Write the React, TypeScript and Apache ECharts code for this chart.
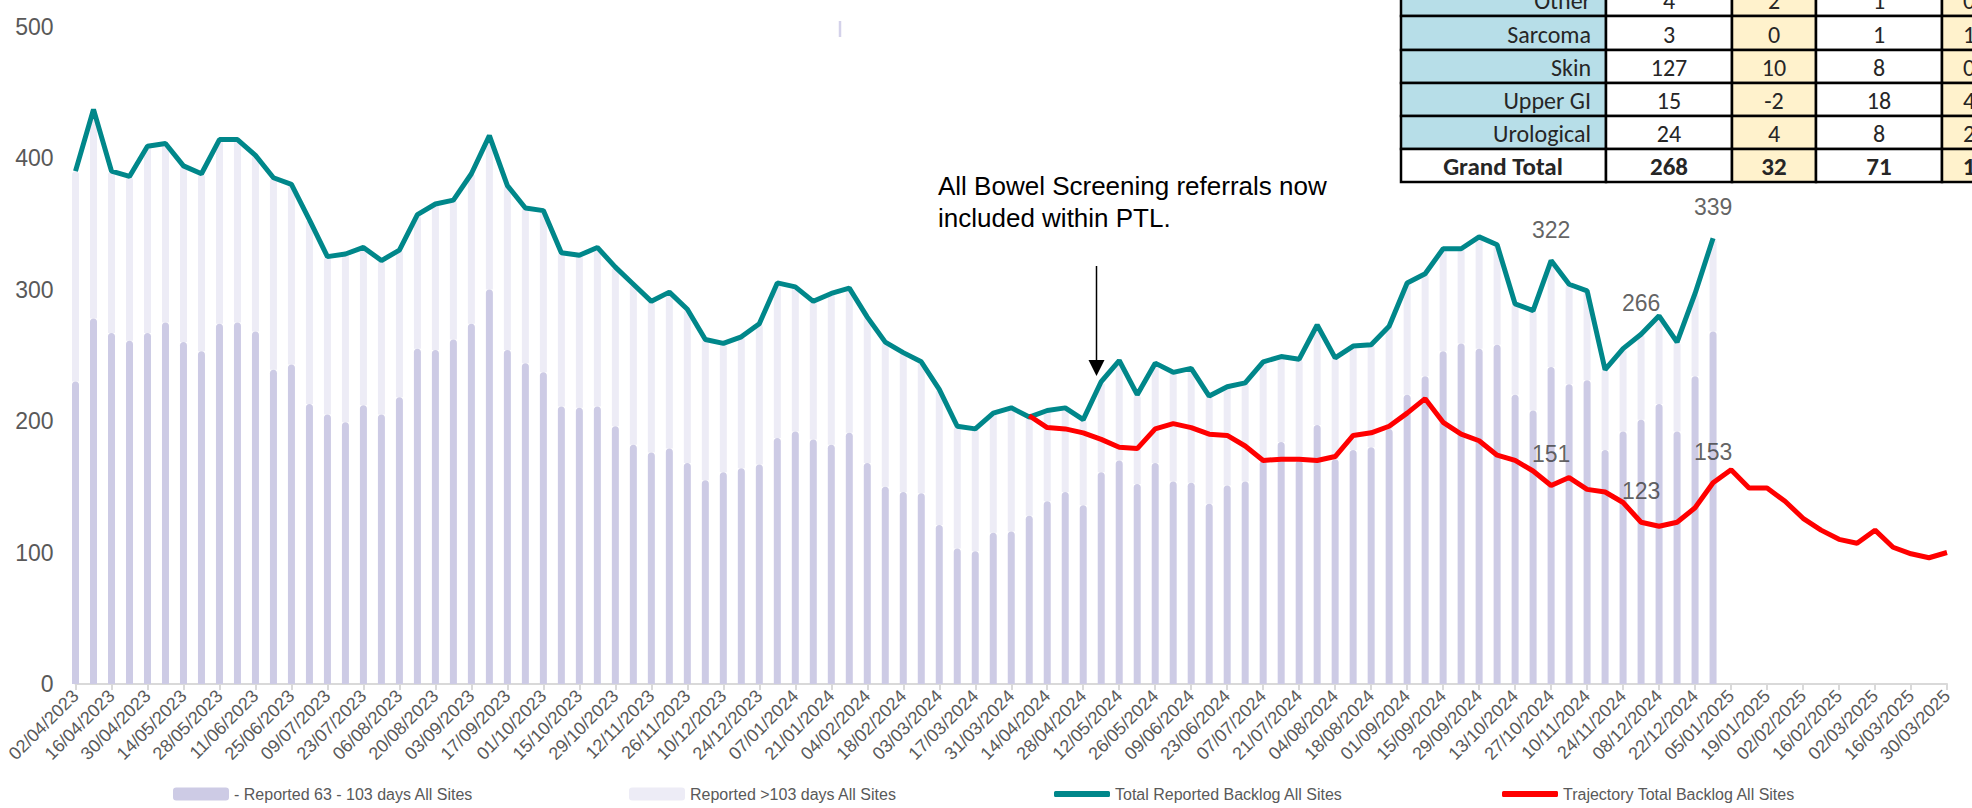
import React, { useEffect, useRef } from "react";
import * as echarts from "echarts";

const categories: string[] = [
  "02/04/2023", "09/04/2023", "16/04/2023", "23/04/2023", "30/04/2023", "07/05/2023", "14/05/2023", "21/05/2023",
  "28/05/2023", "04/06/2023", "11/06/2023", "18/06/2023", "25/06/2023", "02/07/2023", "09/07/2023", "16/07/2023",
  "23/07/2023", "30/07/2023", "06/08/2023", "13/08/2023", "20/08/2023", "27/08/2023", "03/09/2023", "10/09/2023",
  "17/09/2023", "24/09/2023", "01/10/2023", "08/10/2023", "15/10/2023", "22/10/2023", "29/10/2023", "05/11/2023",
  "12/11/2023", "19/11/2023", "26/11/2023", "03/12/2023", "10/12/2023", "17/12/2023", "24/12/2023", "31/12/2023",
  "07/01/2024", "14/01/2024", "21/01/2024", "28/01/2024", "04/02/2024", "11/02/2024", "18/02/2024", "25/02/2024",
  "03/03/2024", "10/03/2024", "17/03/2024", "24/03/2024", "31/03/2024", "07/04/2024", "14/04/2024", "21/04/2024",
  "28/04/2024", "05/05/2024", "12/05/2024", "19/05/2024", "26/05/2024", "02/06/2024", "09/06/2024", "16/06/2024",
  "23/06/2024", "30/06/2024", "07/07/2024", "14/07/2024", "21/07/2024", "28/07/2024", "04/08/2024", "11/08/2024",
  "18/08/2024", "25/08/2024", "01/09/2024", "08/09/2024", "15/09/2024", "22/09/2024", "29/09/2024", "06/10/2024",
  "13/10/2024", "20/10/2024", "27/10/2024", "03/11/2024", "10/11/2024", "17/11/2024", "24/11/2024", "01/12/2024",
  "08/12/2024", "15/12/2024", "22/12/2024", "29/12/2024", "05/01/2025", "12/01/2025", "19/01/2025", "26/01/2025",
  "02/02/2025", "09/02/2025", "16/02/2025", "23/02/2025", "02/03/2025", "09/03/2025", "16/03/2025", "23/03/2025",
  "30/03/2025",
];

// Reported 63 - 103 days (lower, darker bar segment)
const reported63to103: number[] = [
  230, 278, 267, 261, 267, 275, 260, 253, 274, 275, 268, 239, 243, 213, 205, 199,
  212, 205, 218, 255, 254, 262, 274, 300, 254, 244, 237, 211, 210, 211, 196, 182,
  176, 179, 168, 155, 161, 164, 167, 187, 192, 186, 182, 191, 168, 150, 146, 145,
  121, 103, 101, 115, 116, 128, 139, 146, 136, 161, 170, 152, 168, 154, 153, 137,
  151, 154, 170, 184, 170, 197, 171, 178, 180, 194, 220, 234, 253, 259, 255, 258,
  220, 208, 241, 228, 231, 178, 192, 201, 213, 192, 234, 268,
];

// Reported >103 days (upper, lighter bar segment)
const reportedOver103: number[] = [
  160, 159, 123, 125, 142, 136, 134, 135, 140, 139, 134, 146, 137, 140, 120, 128,
  120, 117, 112, 102, 111, 106, 114, 117, 125, 118, 123, 117, 116, 121, 121, 122,
  115, 119, 117, 107, 98, 100, 107, 118, 110, 105, 115, 110, 111, 110, 106, 100,
  103, 93, 93, 91, 94, 75, 69, 64, 65, 69, 76, 68, 76, 83, 87, 82,
  75, 75, 75, 65, 77, 76, 77, 79, 78, 78, 85, 78, 78, 72, 85, 76,
  69, 76, 81, 76, 68, 61, 63, 65, 67, 68, 63, 71,
];

// Total Reported Backlog All Sites
const totalBacklog: number[] = [
  390, 437, 390, 386, 409, 411, 394, 388, 414, 414, 402, 385, 380, 353, 325, 327,
  332, 322, 330, 357, 365, 368, 388, 417, 379, 362, 360, 328, 326, 332, 317, 304,
  291, 298, 285, 262, 259, 264, 274, 305, 302, 291, 297, 301, 279, 260, 252, 245,
  224, 196, 194, 206, 210, 203, 208, 210, 201, 230, 246, 220, 244, 237, 240, 219,
  226, 229, 245, 249, 247, 273, 248, 257, 258, 272, 305, 312, 331, 331, 340, 334,
  289, 284, 322, 304, 299, 239, 255, 266, 280, 260, 297, 339,
];

// Trajectory Total Backlog All Sites (starts at 07/04/2024)
const trajectoryStart = 53;
const trajectory: number[] = [
  204, 195, 194, 191, 186, 180, 179, 194, 198, 195, 190, 189, 181, 170, 171, 171,
  170, 173, 189, 191, 196, 206, 217, 199, 190, 185, 174, 170, 162, 151, 157, 148,
  146, 138, 123, 120, 123, 134, 153, 163, 149, 149, 139, 126, 117, 110, 107, 117,
  104, 99, 96, 100,
];

const labelledIndices: number[] = [82, 87, 91];

const tableRows: string[] = ["Other", "Sarcoma", "Skin", "Upper GI", "Urological", "Grand Total"];
const tableCol1: string[] = ["4", "3", "127", "15", "24", "268"];
const tableCol2: string[] = ["2", "0", "10", "-2", "4", "32"];
const tableCol3: string[] = ["1", "1", "8", "18", "8", "71"];
const tableCol4: string[] = ["0", "1", "0", "4", "2", "1"];

const annotationText = "All Bowel Screening referrals now\nincluded within PTL.";

const NAMES = [
  "- Reported 63 - 103 days All Sites",
  "Reported >103 days All Sites",
  "Total Reported Backlog All Sites",
  "Trajectory Total Backlog All Sites",
];

const DARK = "#CDCBE5";
const LIGHT = "#EDECF6";
const TEAL = "#00878A";
const RED = "#FF0000";
const FONT = "'Liberation Sans', Arial, sans-serif";
const TFONT = "Carlito, Calibri, 'Open Sans', Lato, sans-serif";

function buildTable(): any[] {
  const els: any[] = [];
  const rowTops = [-17, 16, 50, 83, 116, 149];
  const rowH = [33, 34, 33, 33, 33, 33];
  const colLefts = [1401, 1606, 1732, 1816, 1942];
  const colW = [205, 126, 84, 126, 90];
  const cols = [tableCol1, tableCol2, tableCol3, tableCol4];
  for (let r = 0; r < tableRows.length; r++) {
    const isTotal = r === tableRows.length - 1;
    for (let c = 0; c < 5; c++) {
      let fill = "#FFFFFF";
      if (c === 0 && !isTotal) fill = "#B7DEE8";
      if (c === 2 || c === 4) fill = "#FFF2CC";
      els.push({
        type: "rect",
        shape: { x: colLefts[c], y: rowTops[r], width: colW[c], height: rowH[r] },
        style: { fill, stroke: "#000000", lineWidth: 2.5 },
        z: 100,
      });
    }
    const cy = rowTops[r] + rowH[r] / 2 + 1;
    const font = isTotal ? `bold 25px ${TFONT}` : `24px ${TFONT}`;
    els.push({
      type: "text",
      x: isTotal ? 1503 : 1591,
      y: cy,
      style: {
        text: tableRows[r],
        align: isTotal ? "center" : "right",
        verticalAlign: "middle",
        textAlign: isTotal ? "center" : "right",
        textVerticalAlign: "middle",
        font,
        fill: "#262626",
      },
      z: 101,
    });
    const centers = [1669, 1774, 1879, 1969];
    for (let c = 0; c < 4; c++) {
      els.push({
        type: "text",
        x: centers[c],
        y: cy,
        style: {
          text: cols[c][r],
          align: "center",
          verticalAlign: "middle",
          textAlign: "center",
          textVerticalAlign: "middle",
          font,
          fill: "#262626",
        },
        z: 101,
      });
    }
  }
  return els;
}

export default function App() {
  const ref = useRef<HTMLDivElement>(null);

  useEffect(() => {
    if (!ref.current) return;
    const chart = echarts.init(ref.current, undefined, { renderer: "svg" });

    const trajFull: (number | null)[] = categories.map((_, i) => {
      const k = i - trajectoryStart;
      if (k < 0 || k >= trajectory.length) return null;
      return trajectory[k];
    });

    // points that carry data labels (values taken from the series arrays)
    const labelPoints: [number, number][] = [];
    labelledIndices.forEach((i) => {
      labelPoints.push([i, totalBacklog[i]]);
      labelPoints.push([i, trajectory[i - trajectoryStart]]);
    });

    const legendBase = {
      top: 786,
      padding: 0,
      itemGap: 0,
      selectedMode: false,
      textStyle: { fontSize: 16, color: "#595959", fontFamily: FONT },
    };

    const option: any = {
      animation: false,
      backgroundColor: "#FFFFFF",
      grid: {
        left: 75.5,
        right: 25,
        top: 26.5,
        bottom: 124,
        containLabel: false,
        outerBoundsMode: "none",
      },
      legend: [
        { ...legendBase, left: 173, data: [{ name: NAMES[0], icon: "roundRect" }], itemWidth: 56, itemHeight: 13 },
        { ...legendBase, left: 629, data: [{ name: NAMES[1], icon: "roundRect" }], itemWidth: 56, itemHeight: 13 },
        { ...legendBase, left: 1054, data: [{ name: NAMES[2], icon: "roundRect" }], itemWidth: 56, itemHeight: 6 },
        { ...legendBase, left: 1502, data: [{ name: NAMES[3], icon: "roundRect" }], itemWidth: 56, itemHeight: 6 },
      ],
      xAxis: {
        type: "category",
        data: categories,
        boundaryGap: false,
        axisLine: { show: true, lineStyle: { color: "#D9D9D9", width: 2 } },
        axisTick: { show: true, interval: 1, length: 6, lineStyle: { color: "#D9D9D9", width: 2 } },
        axisLabel: {
          interval: 1,
          rotate: 45,
          fontSize: 18,
          fontFamily: FONT,
          color: "#595959",
          margin: 9,
        },
        splitLine: { show: false },
      },
      yAxis: {
        type: "value",
        min: 0,
        max: 500,
        interval: 100,
        axisLine: { show: false },
        axisTick: { show: false },
        splitLine: { show: false },
        axisLabel: { fontSize: 23, fontFamily: FONT, color: "#595959", margin: 22 },
      },
      series: [
        {
          name: NAMES[0],
          type: "bar",
          stack: "backlog",
          data: reported63to103,
          barWidth: 7,
          itemStyle: { color: DARK, borderRadius: [3.5, 3.5, 0, 0] },
          emphasis: { disabled: true },
          z: 2,
        },
        {
          name: NAMES[1],
          type: "bar",
          stack: "backlog",
          data: reportedOver103,
          barWidth: 7,
          itemStyle: { color: LIGHT, borderRadius: [3.5, 3.5, 0, 0] },
          emphasis: { disabled: true },
          z: 1,
        },
        {
          name: NAMES[2],
          type: "line",
          data: totalBacklog,
          symbol: "none",
          lineStyle: { color: TEAL, width: 5 },
          itemStyle: { color: TEAL },
          emphasis: { disabled: true },
          z: 3,
        },
        {
          name: NAMES[3],
          type: "line",
          data: trajFull,
          symbol: "none",
          connectNulls: false,
          lineStyle: { color: RED, width: 5 },
          itemStyle: { color: RED },
          emphasis: { disabled: true },
          z: 4,
        },
        {
          name: "labels",
          type: "scatter",
          data: labelPoints,
          symbol: "circle",
          symbolSize: 1,
          itemStyle: { color: "rgba(0,0,0,0)" },
          silent: true,
          emphasis: { disabled: true },
          label: {
            show: true,
            position: "top",
            distance: 19,
            fontSize: 23,
            fontFamily: FONT,
            color: "#3A3A3A",
            textBorderWidth: 0,
            formatter: (p: any) => String(p.value[1]),
          },
          labelLayout: { hideOverlap: false },
          z: 5,
        },
      ],
      graphic: [
        {
          type: "line",
          shape: { x1: 840, y1: 21, x2: 840, y2: 37 },
          style: { stroke: "#D4D2EA", lineWidth: 2.5 },
          z: 50,
        },
        {
          type: "text",
          x: 938,
          y: 170,
          style: {
            text: annotationText,
            font: `26px ${FONT}`,
            lineHeight: 32,
            fill: "#000000",
            align: "left",
            verticalAlign: "top",
            textAlign: "left",
            textVerticalAlign: "top",
          },
          z: 50,
        },
        {
          type: "line",
          shape: { x1: 1096.5, y1: 266, x2: 1096.5, y2: 362 },
          style: { stroke: "#000000", lineWidth: 1.5 },
          z: 50,
        },
        {
          type: "polygon",
          shape: { points: [[1088.5, 360], [1104.5, 360], [1096.5, 376]] },
          style: { fill: "#000000" },
          z: 50,
        },
        ...buildTable(),
      ],
    };

    chart.setOption(option);
    return () => {
      chart.dispose();
    };
  }, []);

  return (
    <div
      ref={ref}
      style={{ position: "fixed", left: 0, top: 0, width: 1972, height: 808, background: "#fff" }}
    />
  );
}
